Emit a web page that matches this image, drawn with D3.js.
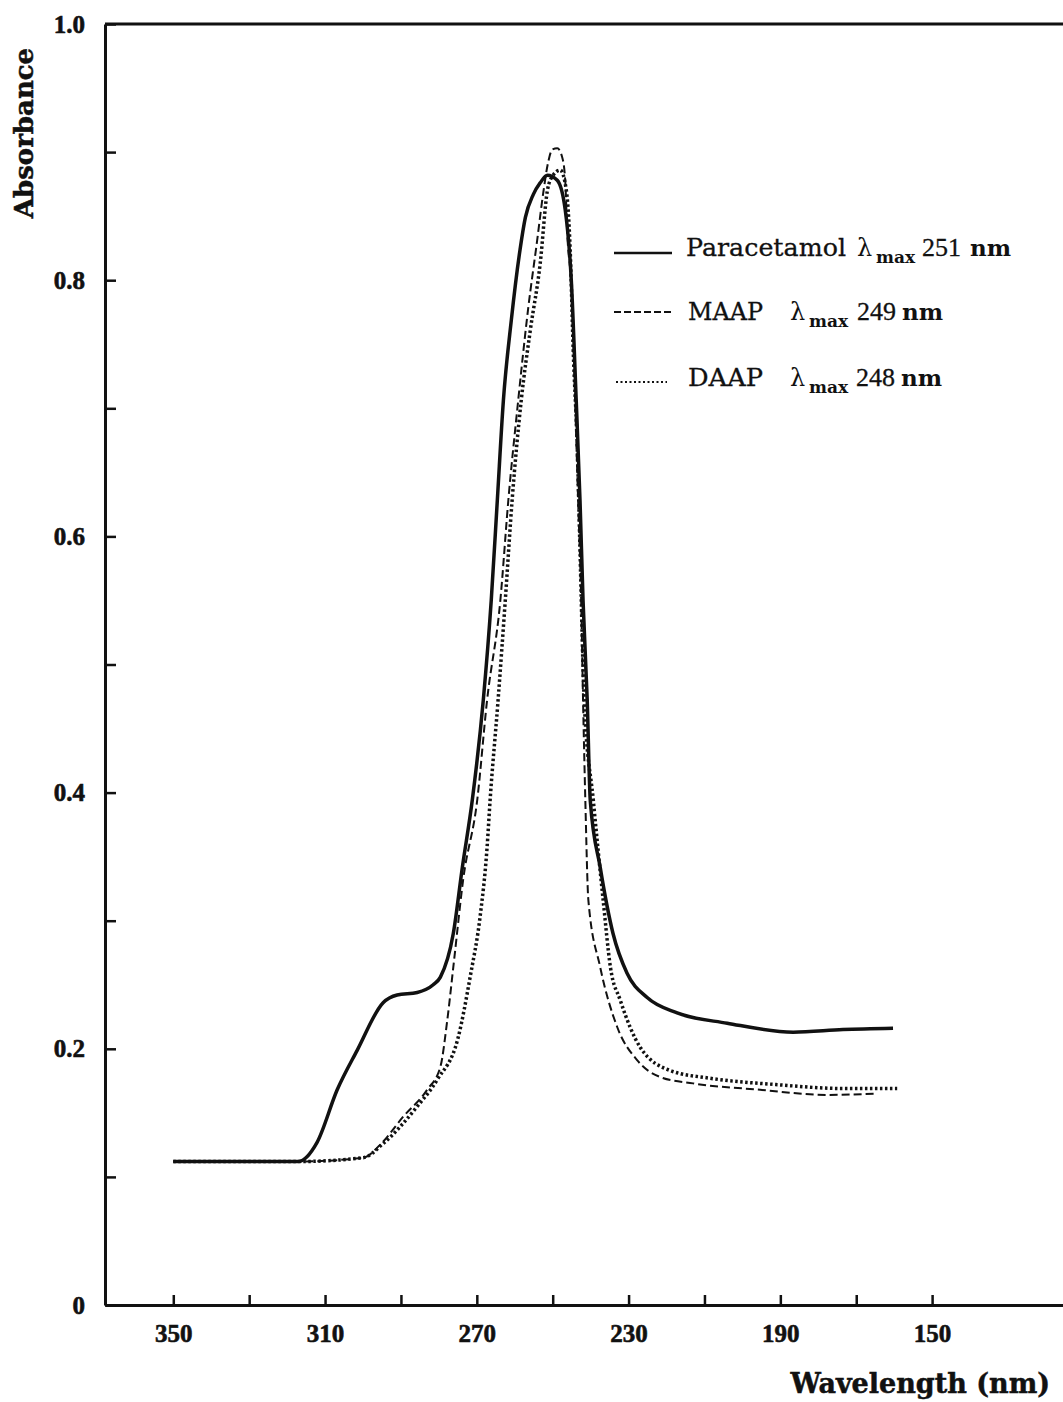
<!DOCTYPE html>
<html>
<head>
<meta charset="utf-8">
<script src="https://cdn.jsdelivr.net/npm/d3@7"></script>
<style>
  body { margin: 0; background: #fff; }
  svg { display: block; }
</style>
</head>
<body>
<script>
// Paracetamol (solid line)
const parWl  = [350, 317.1, 312.1, 306.8, 301.5, 294.7, 291.0, 285.7, 281.5, 279.6, 276.2, 273.8, 271.2, 268.3, 266.2, 264.6, 263.0, 260.9, 258.6, 257.2, 255.1, 253.3, 251.4, 248.8, 246.7, 245.1, 243.8, 242.8, 242.0, 240.9, 240.1, 237.5, 234.1, 230.4, 225.1, 217.2, 204.0, 186.6, 173.5, 160.3];
const parAbs = [0.112, 0.112, 0.127, 0.168, 0.199, 0.236, 0.242, 0.244, 0.250, 0.256, 0.290, 0.342, 0.394, 0.472, 0.550, 0.628, 0.706, 0.769, 0.824, 0.849, 0.867, 0.876, 0.882, 0.878, 0.855, 0.800, 0.706, 0.628, 0.550, 0.472, 0.394, 0.342, 0.290, 0.259, 0.240, 0.228, 0.220, 0.213, 0.215, 0.216];

// MAAP (dashed line)
const maapWl  = [350, 317.1, 299.9, 295.5, 289.4, 283.1, 279.6, 277.8, 276.0, 273.6, 269.9, 267.3, 263.8, 261.7, 259.1, 256.5, 254.1, 252.5, 251.2, 250.1, 248.8, 247.5, 246.7, 246.2, 244.9, 244.1, 243.3, 242.5, 242.0, 241.4, 240.6, 237.5, 233.0, 227.7, 221.7, 213.0, 195.3, 177.7, 164.5];
const maapAbs = [0.112, 0.112, 0.115, 0.125, 0.147, 0.168, 0.186, 0.222, 0.269, 0.332, 0.394, 0.472, 0.550, 0.628, 0.706, 0.777, 0.831, 0.868, 0.892, 0.902, 0.903, 0.896, 0.878, 0.839, 0.785, 0.706, 0.628, 0.550, 0.472, 0.394, 0.316, 0.264, 0.217, 0.191, 0.178, 0.173, 0.168, 0.164, 0.165];

// DAAP (dotted line)
const daapWl  = [350, 317.1, 299.9, 294.7, 285.7, 280.4, 274.9, 271.7, 269.1, 267.3, 266.5, 264.4, 262.5, 260.7, 258.3, 255.9, 253.3, 251.4, 250.1, 248.0, 246.4, 245.4, 244.6, 243.5, 242.8, 241.7, 239.3, 236.7, 234.8, 232.2, 226.9, 219.0, 208.5, 190.8, 173.5, 159.2];
const daapAbs = [0.112, 0.112, 0.115, 0.126, 0.155, 0.176, 0.209, 0.257, 0.304, 0.357, 0.394, 0.472, 0.550, 0.628, 0.706, 0.761, 0.813, 0.870, 0.881, 0.886, 0.870, 0.824, 0.746, 0.667, 0.589, 0.472, 0.394, 0.316, 0.264, 0.238, 0.201, 0.183, 0.177, 0.172, 0.169, 0.169];

const xTicks = [350, 330, 310, 290, 270, 250, 230, 210, 190, 170, 150];
const xLabels = [350, 310, 270, 230, 190, 150];
const yTicks = [0, 0.1, 0.2, 0.3, 0.4, 0.5, 0.6, 0.7, 0.8, 0.9, 1.0];
const yLabels = [0, 0.2, 0.4, 0.6, 0.8, 1.0];

const seriesNames = ['Paracetamol', 'MAAP', 'DAAP'];
const lambdaMax = ['251', '249', '248'];

const width = 1063, height = 1402;
const plotLeft = 105, plotRight = 1063, plotTop = 24, plotBottom = 1305;

const svg = d3.select('body').append('svg')
  .attr('width', width)
  .attr('height', height);

svg.append('rect').attr('width', width).attr('height', height).attr('fill', '#fff');

const x = d3.scaleLinear().domain([368, 115.5]).range([plotLeft, plotRight]);
const y = d3.scaleLinear().domain([0, 1]).range([plotBottom, plotTop]);

// axes
const xAxis = d3.axisBottom(x)
  .tickValues(xTicks)
  .tickSizeInner(-10)
  .tickSizeOuter(0)
  .tickPadding(19)
  .tickFormat(d => xLabels.includes(d) ? d : '');

const yAxis = d3.axisLeft(y)
  .tickValues(yTicks)
  .tickSizeInner(-11)
  .tickSizeOuter(0)
  .tickPadding(20)
  .tickFormat(d => {
    const k = Math.round(d * 10);
    if (k === 0) return '0';
    return yLabels.some(v => Math.round(v * 10) === k) ? d3.format('.1f')(d) : '';
  });

const gx = svg.append('g').attr('transform', `translate(0,${plotBottom})`).call(xAxis);
const gy = svg.append('g').attr('transform', `translate(${plotLeft},0)`).call(yAxis);

[gx, gy].forEach(g => {
  g.select('.domain').attr('stroke', '#111').attr('stroke-width', 3);
  g.selectAll('.tick line').attr('stroke', '#111').attr('stroke-width', 2.5);
  g.selectAll('.tick text')
    .attr('fill', '#111')
    .attr('stroke', '#111')
    .attr('stroke-width', 0.6)
    .style('font-family', '"Liberation Serif", serif')
    .style('font-weight', 'bold')
    .style('font-size', '25px');
});

// top frame line
svg.append('line')
  .attr('x1', plotLeft).attr('x2', plotRight)
  .attr('y1', plotTop).attr('y2', plotTop)
  .attr('stroke', '#111').attr('stroke-width', 3);

// axis titles
svg.append('text')
  .attr('transform', 'translate(33,133) rotate(-90)')
  .attr('text-anchor', 'middle')
  .attr('stroke', '#111').attr('stroke-width', 0.5)
  .style('font-family', '"DejaVu Serif", serif')
  .style('font-weight', 'bold')
  .style('font-size', '26px')
  .attr('fill', '#111')
  .text('Absorbance');

svg.append('text')
  .attr('x', 1050).attr('y', 1393)
  .attr('text-anchor', 'end')
  .attr('stroke', '#111').attr('stroke-width', 0.5)
  .style('font-family', '"DejaVu Serif", serif')
  .style('font-weight', 'bold')
  .style('font-size', '27px')
  .attr('fill', '#111')
  .text('Wavelength (nm)');

// curves
const line = d3.line()
  .x(d => x(d[0]))
  .y(d => y(d[1]))
  .curve(d3.curveMonotoneX);

const styles = [
  { width: 3.5, dash: null },
  { width: 2, dash: '8,4' },
  { width: 3.5, dash: '2.5,2.5' }
];

const series = [
  d3.zip(parWl, parAbs),
  d3.zip(maapWl, maapAbs),
  d3.zip(daapWl, daapAbs)
];

series.forEach((pts, i) => {
  svg.append('path')
    .datum(pts)
    .attr('d', line)
    .attr('fill', 'none')
    .attr('stroke', '#111')
    .attr('stroke-width', styles[i].width)
    .attr('stroke-dasharray', styles[i].dash)
    .attr('stroke-linejoin', 'round');
});

// legend
const legendRows = [
  { base: 256, lineY: 253, x1: 614, x2: 672, name: 686, nameLen: 160, lam: 857, max: 876, num: 922, nm: 970 },
  { base: 320, lineY: 312, x1: 614, x2: 672, name: 688, nameLen: 75, lam: 790, max: 809, num: 857, nm: 902 },
  { base: 386, lineY: 382, x1: 616, x2: 667, name: 688, nameLen: 75, lam: 790, max: 809, num: 856, nm: 901 }
];

const legend = svg.append('g').attr('fill', '#111');

legendRows.forEach((r, i) => {
  legend.append('line')
    .attr('x1', r.x1).attr('x2', r.x2)
    .attr('y1', r.lineY).attr('y2', r.lineY)
    .attr('stroke', '#111')
    .attr('stroke-width', i === 0 ? 2.5 : 2)
    .attr('stroke-dasharray', i === 1 ? '7,3' : (i === 2 ? '2,2.5' : null));

  const t = legend.append('text')
    .attr('y', r.base)
    .style('font-family', '"DejaVu Serif", serif')
    .style('font-size', '25px');

  t.append('tspan')
    .attr('x', r.name)
    .attr('textLength', r.nameLen).attr('lengthAdjust', 'spacingAndGlyphs')
    .attr('stroke', '#111').attr('stroke-width', 0.3)
    .text(seriesNames[i]);

  t.append('tspan')
    .attr('x', r.lam)
    .style('font-size', '24px')
    .text('λ');

  t.append('tspan')
    .attr('x', r.max).attr('dy', 7)
    .style('font-size', '17px')
    .style('font-weight', 'bold')
    .text('max');

  t.append('tspan')
    .attr('x', r.num).attr('dy', -7)
    .style('font-family', '"Liberation Serif", serif')
    .style('font-size', '26px')
    .attr('stroke', '#111').attr('stroke-width', 0.3)
    .text(lambdaMax[i]);

  t.append('tspan')
    .attr('x', r.nm)
    .style('font-size', '23px')
    .style('font-weight', 'bold')
    .text('nm');
});
</script>
</body>
</html>
